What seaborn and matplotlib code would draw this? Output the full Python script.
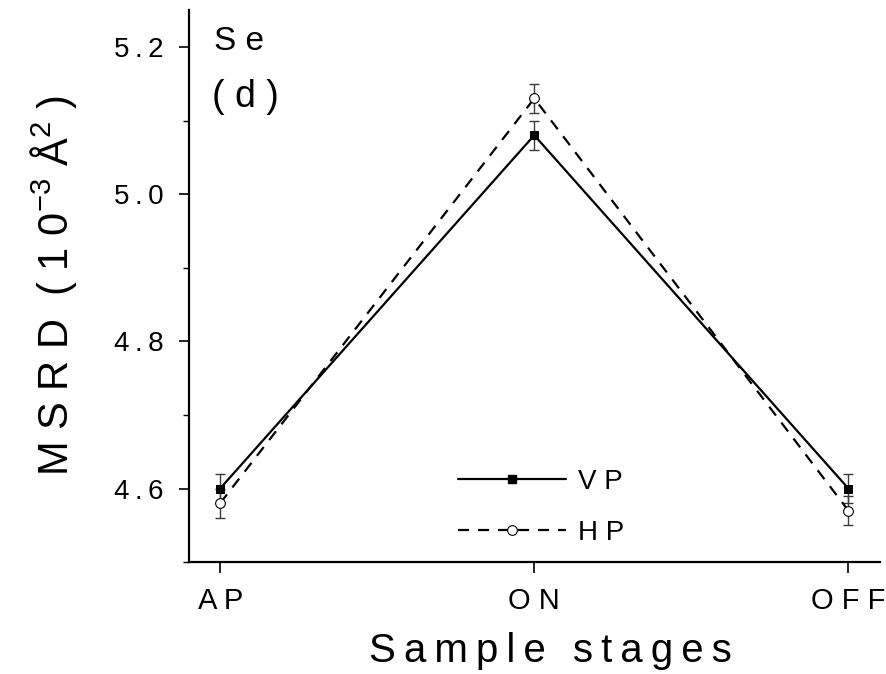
import matplotlib
matplotlib.use("Agg")
import matplotlib.pyplot as plt
import seaborn as sns
import pandas as pd
import numpy as np
from matplotlib.ticker import MultipleLocator
from matplotlib.lines import Line2D

stages = ["AP", "ON", "OFF"]
stage_labels = ["A P", "O N", "O F F"]
vp_values = [4.60, 5.08, 4.60]
vp_errors = [0.02, 0.02, 0.02]
hp_values = [4.58, 5.13, 4.57]
hp_errors = [0.02, 0.02, 0.02]
series_names = ["VP", "HP"]
series_labels = ["V P", "H P"]
y_ticks = [4.6, 4.8, 5.0, 5.2]
y_tick_labels = ["4.6", "4.8", "5.0", "5.2"]

sns.set_theme(style="ticks")
plt.rcParams['font.family'] = ['Liberation Sans', 'DejaVu Sans']
plt.rcParams['mathtext.fontset'] = 'custom'
plt.rcParams['mathtext.rm'] = 'Liberation Sans'
plt.rcParams['mathtext.it'] = 'Liberation Sans'
for k in ['text.color', 'axes.labelcolor', 'xtick.color', 'ytick.color', 'axes.edgecolor']:
    plt.rcParams[k] = 'black'

TS = "\u2009"  # thin space for letter spacing

def spaced(s):
    return (TS + " " + TS).join(TS.join(list(w)) for w in s.split(" "))

df = pd.DataFrame({
    "stage": stages * 2,
    "msrd": vp_values + hp_values,
    "series": [series_names[0]] * 3 + [series_names[1]] * 3,
})

fig = plt.figure(figsize=(8.86, 6.74), dpi=100)
ax = fig.add_axes([0.213, 0.166, 0.780, 0.819])

# error bars
ax.errorbar(stages, vp_values, yerr=vp_errors, fmt='none', ecolor='#3a3a3a',
            elinewidth=1.0, capsize=3.6, capthick=1.0, zorder=2)
ax.errorbar(stages, hp_values, yerr=hp_errors, fmt='none', ecolor='#3a3a3a',
            elinewidth=1.0, capsize=3.6, capthick=1.0, zorder=2)

n_before = len(ax.lines)
sns.lineplot(data=df, x="stage", y="msrd", hue="series", style="series",
             palette={"VP": "black", "HP": "black"},
             dashes={"VP": "", "HP": (5, 4)},
             markers={"VP": "s", "HP": "o"},
             markersize=7, linewidth=1.6, sort=False, ax=ax, legend=False,
             zorder=3)
new_lines = ax.lines[n_before:]
vp_line, hp_line = new_lines[0], new_lines[1]
vp_line.set_markerfacecolor('black'); vp_line.set_markeredgecolor('black')
vp_line.set_markersize(6)
hp_line.set_markerfacecolor('white'); hp_line.set_markeredgecolor('black')
hp_line.set_markeredgewidth(0.8); hp_line.set_markersize(7)

handles = [
    Line2D([], [], color='black', lw=1.6, marker='s', markersize=6,
           markerfacecolor='black'),
    Line2D([], [], color='black', lw=1.6, ls=(0, (5, 4)), marker='o', markersize=7,
           markerfacecolor='white', markeredgewidth=0.8),
]
ax.legend(handles, series_labels, loc='center', bbox_to_anchor=(0.51, 0.099),
          frameon=False, fontsize=20, handlelength=3.9, labelspacing=0.9,
          handletextpad=0.45)

ax.set_xlim(-0.1, 2.1)
ax.set_ylim(4.5, 5.25)
ax.set_yticks(y_ticks)
ax.set_yticklabels([spaced(t) for t in y_tick_labels])
ax.yaxis.set_minor_locator(MultipleLocator(0.1))
ax.set_xticks(range(3))
ax.set_xticklabels(stage_labels)
ax.tick_params(axis='y', which='major', labelsize=20, length=7, width=1.2,
               direction='out', pad=11)
ax.tick_params(axis='x', which='major', labelsize=21, length=8, width=1.2,
               direction='out', pad=10)
ax.tick_params(axis='y', which='minor', length=4, width=1.0, direction='out')
for s in ['top', 'right']:
    ax.spines[s].set_visible(False)
for s in ['left', 'bottom']:
    ax.spines[s].set_linewidth(1.6)

ax.set_xlabel(spaced("Sample stages"), fontsize=29)
ax.xaxis.set_label_coords(0.523, -0.127)
ax.set_ylabel("M S R D  ( 1 0$^{-3}$ Å$^{2}$ )", fontsize=30, labelpad=25)

ax.text(0.036, 0.972, "S e", transform=ax.transAxes, fontsize=24, va='top', ha='left')
ax.text(0.034, 0.876, "( d )", transform=ax.transAxes, fontsize=27, va='top', ha='left')

fig.savefig("out.png", dpi=100)
